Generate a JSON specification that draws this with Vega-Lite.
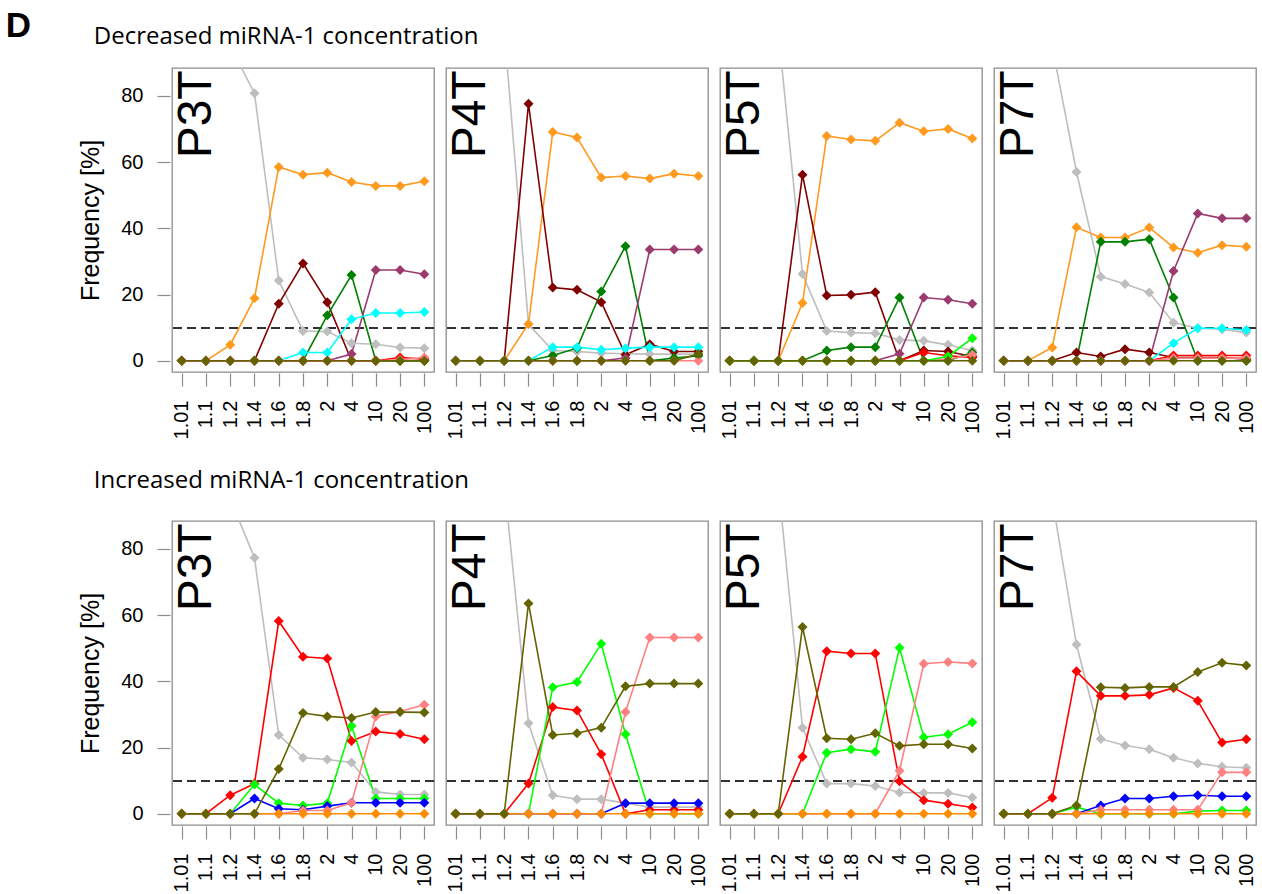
{
"$schema": "https://vega.github.io/schema/vega-lite/v6.json",
"background": "white",
"padding": {"left": 5, "top": 9, "right": 0, "bottom": 0},
"title": {"text": "D", "anchor": "start", "frame": "bounds", "dx": -73, "offset": -47, "font": "Liberation Sans", "fontSize": 35, "fontWeight": "bold", "color": "black", "baseline": "alphabetic"},
"datasets": {
"dec": [
{"panel":"P3T","series":"gray","conc":"1.01","pct":100},{"panel":"P3T","series":"gray","conc":"1.1","pct":100},{"panel":"P3T","series":"gray","conc":"1.2","pct":95},{"panel":"P3T","series":"gray","conc":"1.4","pct":80.8},{"panel":"P3T","series":"gray","conc":"1.6","pct":24.2},{"panel":"P3T","series":"gray","conc":"1.8","pct":9.0},{"panel":"P3T","series":"gray","conc":"2","pct":8.8},{"panel":"P3T","series":"gray","conc":"4","pct":5.3},{"panel":"P3T","series":"gray","conc":"10","pct":5.0},{"panel":"P3T","series":"gray","conc":"20","pct":4.0},{"panel":"P3T","series":"gray","conc":"100","pct":3.8},
{"panel":"P3T","series":"orange","conc":"1.01","pct":0},{"panel":"P3T","series":"orange","conc":"1.1","pct":0},{"panel":"P3T","series":"orange","conc":"1.2","pct":4.8},{"panel":"P3T","series":"orange","conc":"1.4","pct":18.9},{"panel":"P3T","series":"orange","conc":"1.6","pct":58.5},{"panel":"P3T","series":"orange","conc":"1.8","pct":56.2},{"panel":"P3T","series":"orange","conc":"2","pct":56.8},{"panel":"P3T","series":"orange","conc":"4","pct":54.0},{"panel":"P3T","series":"orange","conc":"10","pct":52.8},{"panel":"P3T","series":"orange","conc":"20","pct":52.8},{"panel":"P3T","series":"orange","conc":"100","pct":54.2},
{"panel":"P3T","series":"darkred","conc":"1.01","pct":0},{"panel":"P3T","series":"darkred","conc":"1.1","pct":0},{"panel":"P3T","series":"darkred","conc":"1.2","pct":0},{"panel":"P3T","series":"darkred","conc":"1.4","pct":0},{"panel":"P3T","series":"darkred","conc":"1.6","pct":17.2},{"panel":"P3T","series":"darkred","conc":"1.8","pct":29.4},{"panel":"P3T","series":"darkred","conc":"2","pct":17.7},{"panel":"P3T","series":"darkred","conc":"4","pct":0},{"panel":"P3T","series":"darkred","conc":"10","pct":0},{"panel":"P3T","series":"darkred","conc":"20","pct":0},{"panel":"P3T","series":"darkred","conc":"100","pct":0},
{"panel":"P3T","series":"green","conc":"1.01","pct":0},{"panel":"P3T","series":"green","conc":"1.1","pct":0},{"panel":"P3T","series":"green","conc":"1.2","pct":0},{"panel":"P3T","series":"green","conc":"1.4","pct":0},{"panel":"P3T","series":"green","conc":"1.6","pct":0},{"panel":"P3T","series":"green","conc":"1.8","pct":0},{"panel":"P3T","series":"green","conc":"2","pct":13.7},{"panel":"P3T","series":"green","conc":"4","pct":25.9},{"panel":"P3T","series":"green","conc":"10","pct":0},{"panel":"P3T","series":"green","conc":"20","pct":0},{"panel":"P3T","series":"green","conc":"100","pct":0},
{"panel":"P3T","series":"purple","conc":"1.01","pct":0},{"panel":"P3T","series":"purple","conc":"1.1","pct":0},{"panel":"P3T","series":"purple","conc":"1.2","pct":0},{"panel":"P3T","series":"purple","conc":"1.4","pct":0},{"panel":"P3T","series":"purple","conc":"1.6","pct":0},{"panel":"P3T","series":"purple","conc":"1.8","pct":0},{"panel":"P3T","series":"purple","conc":"2","pct":0},{"panel":"P3T","series":"purple","conc":"4","pct":2.0},{"panel":"P3T","series":"purple","conc":"10","pct":27.4},{"panel":"P3T","series":"purple","conc":"20","pct":27.4},{"panel":"P3T","series":"purple","conc":"100","pct":26.1},
{"panel":"P3T","series":"cyan","conc":"1.01","pct":0},{"panel":"P3T","series":"cyan","conc":"1.1","pct":0},{"panel":"P3T","series":"cyan","conc":"1.2","pct":0},{"panel":"P3T","series":"cyan","conc":"1.4","pct":0},{"panel":"P3T","series":"cyan","conc":"1.6","pct":0},{"panel":"P3T","series":"cyan","conc":"1.8","pct":2.5},{"panel":"P3T","series":"cyan","conc":"2","pct":2.5},{"panel":"P3T","series":"cyan","conc":"4","pct":12.5},{"panel":"P3T","series":"cyan","conc":"10","pct":14.4},{"panel":"P3T","series":"cyan","conc":"20","pct":14.4},{"panel":"P3T","series":"cyan","conc":"100","pct":14.7},
{"panel":"P3T","series":"red","conc":"1.01","pct":0},{"panel":"P3T","series":"red","conc":"1.1","pct":0},{"panel":"P3T","series":"red","conc":"1.2","pct":0},{"panel":"P3T","series":"red","conc":"1.4","pct":0},{"panel":"P3T","series":"red","conc":"1.6","pct":0},{"panel":"P3T","series":"red","conc":"1.8","pct":0},{"panel":"P3T","series":"red","conc":"2","pct":0},{"panel":"P3T","series":"red","conc":"4","pct":0},{"panel":"P3T","series":"red","conc":"10","pct":0},{"panel":"P3T","series":"red","conc":"20","pct":1.0},{"panel":"P3T","series":"red","conc":"100","pct":0.5},
{"panel":"P3T","series":"pink","conc":"1.01","pct":0},{"panel":"P3T","series":"pink","conc":"1.1","pct":0},{"panel":"P3T","series":"pink","conc":"1.2","pct":0},{"panel":"P3T","series":"pink","conc":"1.4","pct":0},{"panel":"P3T","series":"pink","conc":"1.6","pct":0},{"panel":"P3T","series":"pink","conc":"1.8","pct":0},{"panel":"P3T","series":"pink","conc":"2","pct":0},{"panel":"P3T","series":"pink","conc":"4","pct":0},{"panel":"P3T","series":"pink","conc":"10","pct":0},{"panel":"P3T","series":"pink","conc":"20","pct":0.3},{"panel":"P3T","series":"pink","conc":"100","pct":1.0},
{"panel":"P3T","series":"olive","conc":"1.01","pct":0},{"panel":"P3T","series":"olive","conc":"1.1","pct":0},{"panel":"P3T","series":"olive","conc":"1.2","pct":0},{"panel":"P3T","series":"olive","conc":"1.4","pct":0},{"panel":"P3T","series":"olive","conc":"1.6","pct":0},{"panel":"P3T","series":"olive","conc":"1.8","pct":0},{"panel":"P3T","series":"olive","conc":"2","pct":0},{"panel":"P3T","series":"olive","conc":"4","pct":0},{"panel":"P3T","series":"olive","conc":"10","pct":0},{"panel":"P3T","series":"olive","conc":"20","pct":0},{"panel":"P3T","series":"olive","conc":"100","pct":0},

{"panel":"P4T","series":"gray","conc":"1.01","pct":100},{"panel":"P4T","series":"gray","conc":"1.1","pct":100},{"panel":"P4T","series":"gray","conc":"1.2","pct":100},{"panel":"P4T","series":"gray","conc":"1.4","pct":11},{"panel":"P4T","series":"gray","conc":"1.6","pct":3.1},{"panel":"P4T","series":"gray","conc":"1.8","pct":2.8},{"panel":"P4T","series":"gray","conc":"2","pct":2.3},{"panel":"P4T","series":"gray","conc":"4","pct":2.1},{"panel":"P4T","series":"gray","conc":"10","pct":2.0},{"panel":"P4T","series":"gray","conc":"20","pct":2.0},{"panel":"P4T","series":"gray","conc":"100","pct":2.0},
{"panel":"P4T","series":"orange","conc":"1.01","pct":0},{"panel":"P4T","series":"orange","conc":"1.1","pct":0},{"panel":"P4T","series":"orange","conc":"1.2","pct":0},{"panel":"P4T","series":"orange","conc":"1.4","pct":11.1},{"panel":"P4T","series":"orange","conc":"1.6","pct":69.1},{"panel":"P4T","series":"orange","conc":"1.8","pct":67.4},{"panel":"P4T","series":"orange","conc":"2","pct":55.3},{"panel":"P4T","series":"orange","conc":"4","pct":55.8},{"panel":"P4T","series":"orange","conc":"10","pct":55.0},{"panel":"P4T","series":"orange","conc":"20","pct":56.5},{"panel":"P4T","series":"orange","conc":"100","pct":55.8},
{"panel":"P4T","series":"darkred","conc":"1.01","pct":0},{"panel":"P4T","series":"darkred","conc":"1.1","pct":0},{"panel":"P4T","series":"darkred","conc":"1.2","pct":0},{"panel":"P4T","series":"darkred","conc":"1.4","pct":77.6},{"panel":"P4T","series":"darkred","conc":"1.6","pct":22.1},{"panel":"P4T","series":"darkred","conc":"1.8","pct":21.4},{"panel":"P4T","series":"darkred","conc":"2","pct":17.7},{"panel":"P4T","series":"darkred","conc":"4","pct":1.8},{"panel":"P4T","series":"darkred","conc":"10","pct":5.0},{"panel":"P4T","series":"darkred","conc":"20","pct":2.8},{"panel":"P4T","series":"darkred","conc":"100","pct":2.8},
{"panel":"P4T","series":"green","conc":"1.01","pct":0},{"panel":"P4T","series":"green","conc":"1.1","pct":0},{"panel":"P4T","series":"green","conc":"1.2","pct":0},{"panel":"P4T","series":"green","conc":"1.4","pct":0},{"panel":"P4T","series":"green","conc":"1.6","pct":1.6},{"panel":"P4T","series":"green","conc":"1.8","pct":3.8},{"panel":"P4T","series":"green","conc":"2","pct":20.9},{"panel":"P4T","series":"green","conc":"4","pct":34.6},{"panel":"P4T","series":"green","conc":"10","pct":0},{"panel":"P4T","series":"green","conc":"20","pct":0.8},{"panel":"P4T","series":"green","conc":"100","pct":1.5},
{"panel":"P4T","series":"purple","conc":"1.01","pct":0},{"panel":"P4T","series":"purple","conc":"1.1","pct":0},{"panel":"P4T","series":"purple","conc":"1.2","pct":0},{"panel":"P4T","series":"purple","conc":"1.4","pct":0},{"panel":"P4T","series":"purple","conc":"1.6","pct":0},{"panel":"P4T","series":"purple","conc":"1.8","pct":0},{"panel":"P4T","series":"purple","conc":"2","pct":0},{"panel":"P4T","series":"purple","conc":"4","pct":0.8},{"panel":"P4T","series":"purple","conc":"10","pct":33.6},{"panel":"P4T","series":"purple","conc":"20","pct":33.6},{"panel":"P4T","series":"purple","conc":"100","pct":33.6},
{"panel":"P4T","series":"cyan","conc":"1.01","pct":0},{"panel":"P4T","series":"cyan","conc":"1.1","pct":0},{"panel":"P4T","series":"cyan","conc":"1.2","pct":0},{"panel":"P4T","series":"cyan","conc":"1.4","pct":0},{"panel":"P4T","series":"cyan","conc":"1.6","pct":4.1},{"panel":"P4T","series":"cyan","conc":"1.8","pct":4.1},{"panel":"P4T","series":"cyan","conc":"2","pct":3.3},{"panel":"P4T","series":"cyan","conc":"4","pct":3.8},{"panel":"P4T","series":"cyan","conc":"10","pct":4.1},{"panel":"P4T","series":"cyan","conc":"20","pct":4.1},{"panel":"P4T","series":"cyan","conc":"100","pct":4.1},
{"panel":"P4T","series":"pink","conc":"1.01","pct":0},{"panel":"P4T","series":"pink","conc":"1.1","pct":0},{"panel":"P4T","series":"pink","conc":"1.2","pct":0},{"panel":"P4T","series":"pink","conc":"1.4","pct":0},{"panel":"P4T","series":"pink","conc":"1.6","pct":0},{"panel":"P4T","series":"pink","conc":"1.8","pct":0},{"panel":"P4T","series":"pink","conc":"2","pct":0},{"panel":"P4T","series":"pink","conc":"4","pct":0},{"panel":"P4T","series":"pink","conc":"10","pct":0},{"panel":"P4T","series":"pink","conc":"20","pct":0},{"panel":"P4T","series":"pink","conc":"100","pct":0},
{"panel":"P4T","series":"olive","conc":"1.01","pct":0},{"panel":"P4T","series":"olive","conc":"1.1","pct":0},{"panel":"P4T","series":"olive","conc":"1.2","pct":0},{"panel":"P4T","series":"olive","conc":"1.4","pct":0},{"panel":"P4T","series":"olive","conc":"1.6","pct":0},{"panel":"P4T","series":"olive","conc":"1.8","pct":0},{"panel":"P4T","series":"olive","conc":"2","pct":0},{"panel":"P4T","series":"olive","conc":"4","pct":0},{"panel":"P4T","series":"olive","conc":"10","pct":0},{"panel":"P4T","series":"olive","conc":"20","pct":0},{"panel":"P4T","series":"olive","conc":"100","pct":2.0},

{"panel":"P5T","series":"gray","conc":"1.01","pct":100},{"panel":"P5T","series":"gray","conc":"1.1","pct":100},{"panel":"P5T","series":"gray","conc":"1.2","pct":100},{"panel":"P5T","series":"gray","conc":"1.4","pct":26.2},{"panel":"P5T","series":"gray","conc":"1.6","pct":9.0},{"panel":"P5T","series":"gray","conc":"1.8","pct":8.5},{"panel":"P5T","series":"gray","conc":"2","pct":8.3},{"panel":"P5T","series":"gray","conc":"4","pct":6.3},{"panel":"P5T","series":"gray","conc":"10","pct":6.0},{"panel":"P5T","series":"gray","conc":"20","pct":4.8},{"panel":"P5T","series":"gray","conc":"100","pct":3.1},
{"panel":"P5T","series":"orange","conc":"1.01","pct":0},{"panel":"P5T","series":"orange","conc":"1.1","pct":0},{"panel":"P5T","series":"orange","conc":"1.2","pct":0},{"panel":"P5T","series":"orange","conc":"1.4","pct":17.4},{"panel":"P5T","series":"orange","conc":"1.6","pct":67.9},{"panel":"P5T","series":"orange","conc":"1.8","pct":66.8},{"panel":"P5T","series":"orange","conc":"2","pct":66.4},{"panel":"P5T","series":"orange","conc":"4","pct":71.9},{"panel":"P5T","series":"orange","conc":"10","pct":69.3},{"panel":"P5T","series":"orange","conc":"20","pct":70.0},{"panel":"P5T","series":"orange","conc":"100","pct":67.1},
{"panel":"P5T","series":"darkred","conc":"1.01","pct":0},{"panel":"P5T","series":"darkred","conc":"1.1","pct":0},{"panel":"P5T","series":"darkred","conc":"1.2","pct":0},{"panel":"P5T","series":"darkred","conc":"1.4","pct":56.2},{"panel":"P5T","series":"darkred","conc":"1.6","pct":19.7},{"panel":"P5T","series":"darkred","conc":"1.8","pct":19.9},{"panel":"P5T","series":"darkred","conc":"2","pct":20.7},{"panel":"P5T","series":"darkred","conc":"4","pct":0},{"panel":"P5T","series":"darkred","conc":"10","pct":3.1},{"panel":"P5T","series":"darkred","conc":"20","pct":2.8},{"panel":"P5T","series":"darkred","conc":"100","pct":1.3},
{"panel":"P5T","series":"green","conc":"1.01","pct":0},{"panel":"P5T","series":"green","conc":"1.1","pct":0},{"panel":"P5T","series":"green","conc":"1.2","pct":0},{"panel":"P5T","series":"green","conc":"1.4","pct":0},{"panel":"P5T","series":"green","conc":"1.6","pct":3.1},{"panel":"P5T","series":"green","conc":"1.8","pct":4.1},{"panel":"P5T","series":"green","conc":"2","pct":4.1},{"panel":"P5T","series":"green","conc":"4","pct":19.1},{"panel":"P5T","series":"green","conc":"10","pct":0},{"panel":"P5T","series":"green","conc":"20","pct":0},{"panel":"P5T","series":"green","conc":"100","pct":2.5},
{"panel":"P5T","series":"purple","conc":"1.01","pct":0},{"panel":"P5T","series":"purple","conc":"1.1","pct":0},{"panel":"P5T","series":"purple","conc":"1.2","pct":0},{"panel":"P5T","series":"purple","conc":"1.4","pct":0},{"panel":"P5T","series":"purple","conc":"1.6","pct":0},{"panel":"P5T","series":"purple","conc":"1.8","pct":0},{"panel":"P5T","series":"purple","conc":"2","pct":0},{"panel":"P5T","series":"purple","conc":"4","pct":2.1},{"panel":"P5T","series":"purple","conc":"10","pct":19.1},{"panel":"P5T","series":"purple","conc":"20","pct":18.4},{"panel":"P5T","series":"purple","conc":"100","pct":17.2},
{"panel":"P5T","series":"red","conc":"1.01","pct":0},{"panel":"P5T","series":"red","conc":"1.1","pct":0},{"panel":"P5T","series":"red","conc":"1.2","pct":0},{"panel":"P5T","series":"red","conc":"1.4","pct":0},{"panel":"P5T","series":"red","conc":"1.6","pct":0},{"panel":"P5T","series":"red","conc":"1.8","pct":0},{"panel":"P5T","series":"red","conc":"2","pct":0},{"panel":"P5T","series":"red","conc":"4","pct":0},{"panel":"P5T","series":"red","conc":"10","pct":2.5},{"panel":"P5T","series":"red","conc":"20","pct":1.5},{"panel":"P5T","series":"red","conc":"100","pct":1.0},
{"panel":"P5T","series":"pink","conc":"1.01","pct":0},{"panel":"P5T","series":"pink","conc":"1.1","pct":0},{"panel":"P5T","series":"pink","conc":"1.2","pct":0},{"panel":"P5T","series":"pink","conc":"1.4","pct":0},{"panel":"P5T","series":"pink","conc":"1.6","pct":0},{"panel":"P5T","series":"pink","conc":"1.8","pct":0},{"panel":"P5T","series":"pink","conc":"2","pct":0},{"panel":"P5T","series":"pink","conc":"4","pct":0},{"panel":"P5T","series":"pink","conc":"10","pct":0},{"panel":"P5T","series":"pink","conc":"20","pct":0.5},{"panel":"P5T","series":"pink","conc":"100","pct":1.8},
{"panel":"P5T","series":"lime","conc":"1.01","pct":0},{"panel":"P5T","series":"lime","conc":"1.1","pct":0},{"panel":"P5T","series":"lime","conc":"1.2","pct":0},{"panel":"P5T","series":"lime","conc":"1.4","pct":0},{"panel":"P5T","series":"lime","conc":"1.6","pct":0},{"panel":"P5T","series":"lime","conc":"1.8","pct":0},{"panel":"P5T","series":"lime","conc":"2","pct":0},{"panel":"P5T","series":"lime","conc":"4","pct":0},{"panel":"P5T","series":"lime","conc":"10","pct":0},{"panel":"P5T","series":"lime","conc":"20","pct":1.3},{"panel":"P5T","series":"lime","conc":"100","pct":6.8},
{"panel":"P5T","series":"olive","conc":"1.01","pct":0},{"panel":"P5T","series":"olive","conc":"1.1","pct":0},{"panel":"P5T","series":"olive","conc":"1.2","pct":0},{"panel":"P5T","series":"olive","conc":"1.4","pct":0},{"panel":"P5T","series":"olive","conc":"1.6","pct":0},{"panel":"P5T","series":"olive","conc":"1.8","pct":0},{"panel":"P5T","series":"olive","conc":"2","pct":0},{"panel":"P5T","series":"olive","conc":"4","pct":0},{"panel":"P5T","series":"olive","conc":"10","pct":0},{"panel":"P5T","series":"olive","conc":"20","pct":0},{"panel":"P5T","series":"olive","conc":"100","pct":0},

{"panel":"P7T","series":"gray","conc":"1.01","pct":100},{"panel":"P7T","series":"gray","conc":"1.1","pct":100},{"panel":"P7T","series":"gray","conc":"1.2","pct":95},{"panel":"P7T","series":"gray","conc":"1.4","pct":57.0},{"panel":"P7T","series":"gray","conc":"1.6","pct":25.4},{"panel":"P7T","series":"gray","conc":"1.8","pct":23.2},{"panel":"P7T","series":"gray","conc":"2","pct":20.6},{"panel":"P7T","series":"gray","conc":"4","pct":11.5},{"panel":"P7T","series":"gray","conc":"10","pct":9.8},{"panel":"P7T","series":"gray","conc":"20","pct":9.5},{"panel":"P7T","series":"gray","conc":"100","pct":8.5},
{"panel":"P7T","series":"orange","conc":"1.01","pct":0},{"panel":"P7T","series":"orange","conc":"1.1","pct":0},{"panel":"P7T","series":"orange","conc":"1.2","pct":4.0},{"panel":"P7T","series":"orange","conc":"1.4","pct":40.3},{"panel":"P7T","series":"orange","conc":"1.6","pct":37.2},{"panel":"P7T","series":"orange","conc":"1.8","pct":37.2},{"panel":"P7T","series":"orange","conc":"2","pct":40.2},{"panel":"P7T","series":"orange","conc":"4","pct":34.2},{"panel":"P7T","series":"orange","conc":"10","pct":32.6},{"panel":"P7T","series":"orange","conc":"20","pct":34.9},{"panel":"P7T","series":"orange","conc":"100","pct":34.4},
{"panel":"P7T","series":"darkred","conc":"1.01","pct":0},{"panel":"P7T","series":"darkred","conc":"1.1","pct":0},{"panel":"P7T","series":"darkred","conc":"1.2","pct":0},{"panel":"P7T","series":"darkred","conc":"1.4","pct":2.5},{"panel":"P7T","series":"darkred","conc":"1.6","pct":1.3},{"panel":"P7T","series":"darkred","conc":"1.8","pct":3.5},{"panel":"P7T","series":"darkred","conc":"2","pct":2.5},{"panel":"P7T","series":"darkred","conc":"4","pct":1.0},{"panel":"P7T","series":"darkred","conc":"10","pct":1.0},{"panel":"P7T","series":"darkred","conc":"20","pct":1.0},{"panel":"P7T","series":"darkred","conc":"100","pct":0.5},
{"panel":"P7T","series":"green","conc":"1.01","pct":0},{"panel":"P7T","series":"green","conc":"1.1","pct":0},{"panel":"P7T","series":"green","conc":"1.2","pct":0},{"panel":"P7T","series":"green","conc":"1.4","pct":0},{"panel":"P7T","series":"green","conc":"1.6","pct":35.9},{"panel":"P7T","series":"green","conc":"1.8","pct":35.9},{"panel":"P7T","series":"green","conc":"2","pct":36.7},{"panel":"P7T","series":"green","conc":"4","pct":19.1},{"panel":"P7T","series":"green","conc":"10","pct":0},{"panel":"P7T","series":"green","conc":"20","pct":0},{"panel":"P7T","series":"green","conc":"100","pct":0},
{"panel":"P7T","series":"purple","conc":"1.01","pct":0},{"panel":"P7T","series":"purple","conc":"1.1","pct":0},{"panel":"P7T","series":"purple","conc":"1.2","pct":0},{"panel":"P7T","series":"purple","conc":"1.4","pct":0},{"panel":"P7T","series":"purple","conc":"1.6","pct":0},{"panel":"P7T","series":"purple","conc":"1.8","pct":0},{"panel":"P7T","series":"purple","conc":"2","pct":0},{"panel":"P7T","series":"purple","conc":"4","pct":27.1},{"panel":"P7T","series":"purple","conc":"10","pct":44.5},{"panel":"P7T","series":"purple","conc":"20","pct":43.0},{"panel":"P7T","series":"purple","conc":"100","pct":43.0},
{"panel":"P7T","series":"cyan","conc":"1.01","pct":0},{"panel":"P7T","series":"cyan","conc":"1.1","pct":0},{"panel":"P7T","series":"cyan","conc":"1.2","pct":0},{"panel":"P7T","series":"cyan","conc":"1.4","pct":0},{"panel":"P7T","series":"cyan","conc":"1.6","pct":0},{"panel":"P7T","series":"cyan","conc":"1.8","pct":0},{"panel":"P7T","series":"cyan","conc":"2","pct":0},{"panel":"P7T","series":"cyan","conc":"4","pct":5.3},{"panel":"P7T","series":"cyan","conc":"10","pct":9.8},{"panel":"P7T","series":"cyan","conc":"20","pct":9.8},{"panel":"P7T","series":"cyan","conc":"100","pct":9.3},
{"panel":"P7T","series":"red","conc":"1.01","pct":0},{"panel":"P7T","series":"red","conc":"1.1","pct":0},{"panel":"P7T","series":"red","conc":"1.2","pct":0},{"panel":"P7T","series":"red","conc":"1.4","pct":0},{"panel":"P7T","series":"red","conc":"1.6","pct":0},{"panel":"P7T","series":"red","conc":"1.8","pct":0},{"panel":"P7T","series":"red","conc":"2","pct":0},{"panel":"P7T","series":"red","conc":"4","pct":1.6},{"panel":"P7T","series":"red","conc":"10","pct":1.6},{"panel":"P7T","series":"red","conc":"20","pct":1.6},{"panel":"P7T","series":"red","conc":"100","pct":1.6},
{"panel":"P7T","series":"pink","conc":"1.01","pct":0},{"panel":"P7T","series":"pink","conc":"1.1","pct":0},{"panel":"P7T","series":"pink","conc":"1.2","pct":0},{"panel":"P7T","series":"pink","conc":"1.4","pct":0},{"panel":"P7T","series":"pink","conc":"1.6","pct":0},{"panel":"P7T","series":"pink","conc":"1.8","pct":0},{"panel":"P7T","series":"pink","conc":"2","pct":0},{"panel":"P7T","series":"pink","conc":"4","pct":0.8},{"panel":"P7T","series":"pink","conc":"10","pct":0.8},{"panel":"P7T","series":"pink","conc":"20","pct":0.8},{"panel":"P7T","series":"pink","conc":"100","pct":0.8},
{"panel":"P7T","series":"olive","conc":"1.01","pct":0},{"panel":"P7T","series":"olive","conc":"1.1","pct":0},{"panel":"P7T","series":"olive","conc":"1.2","pct":0},{"panel":"P7T","series":"olive","conc":"1.4","pct":0},{"panel":"P7T","series":"olive","conc":"1.6","pct":0},{"panel":"P7T","series":"olive","conc":"1.8","pct":0},{"panel":"P7T","series":"olive","conc":"2","pct":0},{"panel":"P7T","series":"olive","conc":"4","pct":0},{"panel":"P7T","series":"olive","conc":"10","pct":0},{"panel":"P7T","series":"olive","conc":"20","pct":0},{"panel":"P7T","series":"olive","conc":"100","pct":0}
],
"inc": [
{"panel":"P3T","series":"gray","conc":"1.01","pct":100},{"panel":"P3T","series":"gray","conc":"1.1","pct":100},{"panel":"P3T","series":"gray","conc":"1.2","pct":95},{"panel":"P3T","series":"gray","conc":"1.4","pct":77.3},{"panel":"P3T","series":"gray","conc":"1.6","pct":23.8},{"panel":"P3T","series":"gray","conc":"1.8","pct":16.9},{"panel":"P3T","series":"gray","conc":"2","pct":16.4},{"panel":"P3T","series":"gray","conc":"4","pct":15.5},{"panel":"P3T","series":"gray","conc":"10","pct":6.6},{"panel":"P3T","series":"gray","conc":"20","pct":5.8},{"panel":"P3T","series":"gray","conc":"100","pct":5.8},
{"panel":"P3T","series":"red","conc":"1.01","pct":0},{"panel":"P3T","series":"red","conc":"1.1","pct":0},{"panel":"P3T","series":"red","conc":"1.2","pct":5.6},{"panel":"P3T","series":"red","conc":"1.4","pct":9.1},{"panel":"P3T","series":"red","conc":"1.6","pct":58.2},{"panel":"P3T","series":"red","conc":"1.8","pct":47.4},{"panel":"P3T","series":"red","conc":"2","pct":46.9},{"panel":"P3T","series":"red","conc":"4","pct":22.0},{"panel":"P3T","series":"red","conc":"10","pct":24.8},{"panel":"P3T","series":"red","conc":"20","pct":24.1},{"panel":"P3T","series":"red","conc":"100","pct":22.5},
{"panel":"P3T","series":"lime","conc":"1.01","pct":0},{"panel":"P3T","series":"lime","conc":"1.1","pct":0},{"panel":"P3T","series":"lime","conc":"1.2","pct":0},{"panel":"P3T","series":"lime","conc":"1.4","pct":8.8},{"panel":"P3T","series":"lime","conc":"1.6","pct":3.2},{"panel":"P3T","series":"lime","conc":"1.8","pct":2.5},{"panel":"P3T","series":"lime","conc":"2","pct":3.2},{"panel":"P3T","series":"lime","conc":"4","pct":26.5},{"panel":"P3T","series":"lime","conc":"10","pct":4.6},{"panel":"P3T","series":"lime","conc":"20","pct":4.6},{"panel":"P3T","series":"lime","conc":"100","pct":4.6},
{"panel":"P3T","series":"blue","conc":"1.01","pct":0},{"panel":"P3T","series":"blue","conc":"1.1","pct":0},{"panel":"P3T","series":"blue","conc":"1.2","pct":0},{"panel":"P3T","series":"blue","conc":"1.4","pct":4.6},{"panel":"P3T","series":"blue","conc":"1.6","pct":1.5},{"panel":"P3T","series":"blue","conc":"1.8","pct":1.2},{"panel":"P3T","series":"blue","conc":"2","pct":2.3},{"panel":"P3T","series":"blue","conc":"4","pct":3.3},{"panel":"P3T","series":"blue","conc":"10","pct":3.3},{"panel":"P3T","series":"blue","conc":"20","pct":3.3},{"panel":"P3T","series":"blue","conc":"100","pct":3.3},
{"panel":"P3T","series":"pink","conc":"1.01","pct":0},{"panel":"P3T","series":"pink","conc":"1.1","pct":0},{"panel":"P3T","series":"pink","conc":"1.2","pct":0},{"panel":"P3T","series":"pink","conc":"1.4","pct":0},{"panel":"P3T","series":"pink","conc":"1.6","pct":0},{"panel":"P3T","series":"pink","conc":"1.8","pct":1.0},{"panel":"P3T","series":"pink","conc":"2","pct":1.0},{"panel":"P3T","series":"pink","conc":"4","pct":3.3},{"panel":"P3T","series":"pink","conc":"10","pct":29.4},{"panel":"P3T","series":"pink","conc":"20","pct":30.9},{"panel":"P3T","series":"pink","conc":"100","pct":32.9},
{"panel":"P3T","series":"orange2","conc":"1.01","pct":0},{"panel":"P3T","series":"orange2","conc":"1.1","pct":0},{"panel":"P3T","series":"orange2","conc":"1.2","pct":0},{"panel":"P3T","series":"orange2","conc":"1.4","pct":0},{"panel":"P3T","series":"orange2","conc":"1.6","pct":0},{"panel":"P3T","series":"orange2","conc":"1.8","pct":0},{"panel":"P3T","series":"orange2","conc":"2","pct":0},{"panel":"P3T","series":"orange2","conc":"4","pct":0},{"panel":"P3T","series":"orange2","conc":"10","pct":0},{"panel":"P3T","series":"orange2","conc":"20","pct":0},{"panel":"P3T","series":"orange2","conc":"100","pct":0},
{"panel":"P3T","series":"olive","conc":"1.01","pct":0},{"panel":"P3T","series":"olive","conc":"1.1","pct":0},{"panel":"P3T","series":"olive","conc":"1.2","pct":0},{"panel":"P3T","series":"olive","conc":"1.4","pct":0},{"panel":"P3T","series":"olive","conc":"1.6","pct":13.5},{"panel":"P3T","series":"olive","conc":"1.8","pct":30.4},{"panel":"P3T","series":"olive","conc":"2","pct":29.4},{"panel":"P3T","series":"olive","conc":"4","pct":28.9},{"panel":"P3T","series":"olive","conc":"10","pct":30.7},{"panel":"P3T","series":"olive","conc":"20","pct":30.7},{"panel":"P3T","series":"olive","conc":"100","pct":30.6},

{"panel":"P4T","series":"gray","conc":"1.01","pct":100},{"panel":"P4T","series":"gray","conc":"1.1","pct":100},{"panel":"P4T","series":"gray","conc":"1.2","pct":100},{"panel":"P4T","series":"gray","conc":"1.4","pct":27.3},{"panel":"P4T","series":"gray","conc":"1.6","pct":5.6},{"panel":"P4T","series":"gray","conc":"1.8","pct":4.4},{"panel":"P4T","series":"gray","conc":"2","pct":4.4},{"panel":"P4T","series":"gray","conc":"4","pct":3.2},{"panel":"P4T","series":"gray","conc":"10","pct":2.0},{"panel":"P4T","series":"gray","conc":"20","pct":2.0},{"panel":"P4T","series":"gray","conc":"100","pct":2.0},
{"panel":"P4T","series":"red","conc":"1.01","pct":0},{"panel":"P4T","series":"red","conc":"1.1","pct":0},{"panel":"P4T","series":"red","conc":"1.2","pct":0},{"panel":"P4T","series":"red","conc":"1.4","pct":9.1},{"panel":"P4T","series":"red","conc":"1.6","pct":32.2},{"panel":"P4T","series":"red","conc":"1.8","pct":31.2},{"panel":"P4T","series":"red","conc":"2","pct":18.0},{"panel":"P4T","series":"red","conc":"4","pct":0},{"panel":"P4T","series":"red","conc":"10","pct":1.2},{"panel":"P4T","series":"red","conc":"20","pct":1.2},{"panel":"P4T","series":"red","conc":"100","pct":1.2},
{"panel":"P4T","series":"lime","conc":"1.01","pct":0},{"panel":"P4T","series":"lime","conc":"1.1","pct":0},{"panel":"P4T","series":"lime","conc":"1.2","pct":0},{"panel":"P4T","series":"lime","conc":"1.4","pct":0},{"panel":"P4T","series":"lime","conc":"1.6","pct":38.2},{"panel":"P4T","series":"lime","conc":"1.8","pct":39.8},{"panel":"P4T","series":"lime","conc":"2","pct":51.3},{"panel":"P4T","series":"lime","conc":"4","pct":24.0},{"panel":"P4T","series":"lime","conc":"10","pct":0},{"panel":"P4T","series":"lime","conc":"20","pct":0},{"panel":"P4T","series":"lime","conc":"100","pct":0},
{"panel":"P4T","series":"blue","conc":"1.01","pct":0},{"panel":"P4T","series":"blue","conc":"1.1","pct":0},{"panel":"P4T","series":"blue","conc":"1.2","pct":0},{"panel":"P4T","series":"blue","conc":"1.4","pct":0},{"panel":"P4T","series":"blue","conc":"1.6","pct":0},{"panel":"P4T","series":"blue","conc":"1.8","pct":0},{"panel":"P4T","series":"blue","conc":"2","pct":0},{"panel":"P4T","series":"blue","conc":"4","pct":3.2},{"panel":"P4T","series":"blue","conc":"10","pct":3.2},{"panel":"P4T","series":"blue","conc":"20","pct":3.2},{"panel":"P4T","series":"blue","conc":"100","pct":3.2},
{"panel":"P4T","series":"pink","conc":"1.01","pct":0},{"panel":"P4T","series":"pink","conc":"1.1","pct":0},{"panel":"P4T","series":"pink","conc":"1.2","pct":0},{"panel":"P4T","series":"pink","conc":"1.4","pct":0},{"panel":"P4T","series":"pink","conc":"1.6","pct":0},{"panel":"P4T","series":"pink","conc":"1.8","pct":0},{"panel":"P4T","series":"pink","conc":"2","pct":0},{"panel":"P4T","series":"pink","conc":"4","pct":30.7},{"panel":"P4T","series":"pink","conc":"10","pct":53.2},{"panel":"P4T","series":"pink","conc":"20","pct":53.2},{"panel":"P4T","series":"pink","conc":"100","pct":53.2},
{"panel":"P4T","series":"orange2","conc":"1.01","pct":0},{"panel":"P4T","series":"orange2","conc":"1.1","pct":0},{"panel":"P4T","series":"orange2","conc":"1.2","pct":0},{"panel":"P4T","series":"orange2","conc":"1.4","pct":0},{"panel":"P4T","series":"orange2","conc":"1.6","pct":0},{"panel":"P4T","series":"orange2","conc":"1.8","pct":0},{"panel":"P4T","series":"orange2","conc":"2","pct":0},{"panel":"P4T","series":"orange2","conc":"4","pct":0},{"panel":"P4T","series":"orange2","conc":"10","pct":0},{"panel":"P4T","series":"orange2","conc":"20","pct":0},{"panel":"P4T","series":"orange2","conc":"100","pct":0},
{"panel":"P4T","series":"olive","conc":"1.01","pct":0},{"panel":"P4T","series":"olive","conc":"1.1","pct":0},{"panel":"P4T","series":"olive","conc":"1.2","pct":0},{"panel":"P4T","series":"olive","conc":"1.4","pct":63.5},{"panel":"P4T","series":"olive","conc":"1.6","pct":23.8},{"panel":"P4T","series":"olive","conc":"1.8","pct":24.3},{"panel":"P4T","series":"olive","conc":"2","pct":26.0},{"panel":"P4T","series":"olive","conc":"4","pct":38.5},{"panel":"P4T","series":"olive","conc":"10","pct":39.3},{"panel":"P4T","series":"olive","conc":"20","pct":39.3},{"panel":"P4T","series":"olive","conc":"100","pct":39.3},

{"panel":"P5T","series":"gray","conc":"1.01","pct":100},{"panel":"P5T","series":"gray","conc":"1.1","pct":100},{"panel":"P5T","series":"gray","conc":"1.2","pct":100},{"panel":"P5T","series":"gray","conc":"1.4","pct":26.0},{"panel":"P5T","series":"gray","conc":"1.6","pct":9.1},{"panel":"P5T","series":"gray","conc":"1.8","pct":9.1},{"panel":"P5T","series":"gray","conc":"2","pct":8.4},{"panel":"P5T","series":"gray","conc":"4","pct":6.4},{"panel":"P5T","series":"gray","conc":"10","pct":6.3},{"panel":"P5T","series":"gray","conc":"20","pct":6.3},{"panel":"P5T","series":"gray","conc":"100","pct":4.9},
{"panel":"P5T","series":"red","conc":"1.01","pct":0},{"panel":"P5T","series":"red","conc":"1.1","pct":0},{"panel":"P5T","series":"red","conc":"1.2","pct":0},{"panel":"P5T","series":"red","conc":"1.4","pct":17.2},{"panel":"P5T","series":"red","conc":"1.6","pct":49.1},{"panel":"P5T","series":"red","conc":"1.8","pct":48.4},{"panel":"P5T","series":"red","conc":"2","pct":48.4},{"panel":"P5T","series":"red","conc":"4","pct":9.8},{"panel":"P5T","series":"red","conc":"10","pct":4.1},{"panel":"P5T","series":"red","conc":"20","pct":3.0},{"panel":"P5T","series":"red","conc":"100","pct":1.9},
{"panel":"P5T","series":"lime","conc":"1.01","pct":0},{"panel":"P5T","series":"lime","conc":"1.1","pct":0},{"panel":"P5T","series":"lime","conc":"1.2","pct":0},{"panel":"P5T","series":"lime","conc":"1.4","pct":0},{"panel":"P5T","series":"lime","conc":"1.6","pct":18.4},{"panel":"P5T","series":"lime","conc":"1.8","pct":19.5},{"panel":"P5T","series":"lime","conc":"2","pct":18.7},{"panel":"P5T","series":"lime","conc":"4","pct":50.1},{"panel":"P5T","series":"lime","conc":"10","pct":23.1},{"panel":"P5T","series":"lime","conc":"20","pct":24.0},{"panel":"P5T","series":"lime","conc":"100","pct":27.6},
{"panel":"P5T","series":"pink","conc":"1.01","pct":0},{"panel":"P5T","series":"pink","conc":"1.1","pct":0},{"panel":"P5T","series":"pink","conc":"1.2","pct":0},{"panel":"P5T","series":"pink","conc":"1.4","pct":0},{"panel":"P5T","series":"pink","conc":"1.6","pct":0},{"panel":"P5T","series":"pink","conc":"1.8","pct":0},{"panel":"P5T","series":"pink","conc":"2","pct":0},{"panel":"P5T","series":"pink","conc":"4","pct":13.0},{"panel":"P5T","series":"pink","conc":"10","pct":45.3},{"panel":"P5T","series":"pink","conc":"20","pct":45.8},{"panel":"P5T","series":"pink","conc":"100","pct":45.4},
{"panel":"P5T","series":"orange2","conc":"1.01","pct":0},{"panel":"P5T","series":"orange2","conc":"1.1","pct":0},{"panel":"P5T","series":"orange2","conc":"1.2","pct":0},{"panel":"P5T","series":"orange2","conc":"1.4","pct":0},{"panel":"P5T","series":"orange2","conc":"1.6","pct":0},{"panel":"P5T","series":"orange2","conc":"1.8","pct":0},{"panel":"P5T","series":"orange2","conc":"2","pct":0},{"panel":"P5T","series":"orange2","conc":"4","pct":0},{"panel":"P5T","series":"orange2","conc":"10","pct":0},{"panel":"P5T","series":"orange2","conc":"20","pct":0},{"panel":"P5T","series":"orange2","conc":"100","pct":0},
{"panel":"P5T","series":"olive","conc":"1.01","pct":0},{"panel":"P5T","series":"olive","conc":"1.1","pct":0},{"panel":"P5T","series":"olive","conc":"1.2","pct":0},{"panel":"P5T","series":"olive","conc":"1.4","pct":56.4},{"panel":"P5T","series":"olive","conc":"1.6","pct":22.8},{"panel":"P5T","series":"olive","conc":"1.8","pct":22.5},{"panel":"P5T","series":"olive","conc":"2","pct":24.3},{"panel":"P5T","series":"olive","conc":"4","pct":20.5},{"panel":"P5T","series":"olive","conc":"10","pct":21.0},{"panel":"P5T","series":"olive","conc":"20","pct":21.0},{"panel":"P5T","series":"olive","conc":"100","pct":19.7},

{"panel":"P7T","series":"gray","conc":"1.01","pct":100},{"panel":"P7T","series":"gray","conc":"1.1","pct":100},{"panel":"P7T","series":"gray","conc":"1.2","pct":95},{"panel":"P7T","series":"gray","conc":"1.4","pct":51.1},{"panel":"P7T","series":"gray","conc":"1.6","pct":22.6},{"panel":"P7T","series":"gray","conc":"1.8","pct":20.6},{"panel":"P7T","series":"gray","conc":"2","pct":19.5},{"panel":"P7T","series":"gray","conc":"4","pct":16.9},{"panel":"P7T","series":"gray","conc":"10","pct":15.2},{"panel":"P7T","series":"gray","conc":"20","pct":14.2},{"panel":"P7T","series":"gray","conc":"100","pct":13.9},
{"panel":"P7T","series":"red","conc":"1.01","pct":0},{"panel":"P7T","series":"red","conc":"1.1","pct":0},{"panel":"P7T","series":"red","conc":"1.2","pct":4.8},{"panel":"P7T","series":"red","conc":"1.4","pct":43.0},{"panel":"P7T","series":"red","conc":"1.6","pct":35.6},{"panel":"P7T","series":"red","conc":"1.8","pct":35.6},{"panel":"P7T","series":"red","conc":"2","pct":35.9},{"panel":"P7T","series":"red","conc":"4","pct":38.0},{"panel":"P7T","series":"red","conc":"10","pct":34.1},{"panel":"P7T","series":"red","conc":"20","pct":21.5},{"panel":"P7T","series":"red","conc":"100","pct":22.5},
{"panel":"P7T","series":"lime","conc":"1.01","pct":0},{"panel":"P7T","series":"lime","conc":"1.1","pct":0},{"panel":"P7T","series":"lime","conc":"1.2","pct":0},{"panel":"P7T","series":"lime","conc":"1.4","pct":2.0},{"panel":"P7T","series":"lime","conc":"1.6","pct":0},{"panel":"P7T","series":"lime","conc":"1.8","pct":0},{"panel":"P7T","series":"lime","conc":"2","pct":0},{"panel":"P7T","series":"lime","conc":"4","pct":0},{"panel":"P7T","series":"lime","conc":"10","pct":0.8},{"panel":"P7T","series":"lime","conc":"20","pct":1.0},{"panel":"P7T","series":"lime","conc":"100","pct":1.0},
{"panel":"P7T","series":"blue","conc":"1.01","pct":0},{"panel":"P7T","series":"blue","conc":"1.1","pct":0},{"panel":"P7T","series":"blue","conc":"1.2","pct":0},{"panel":"P7T","series":"blue","conc":"1.4","pct":0},{"panel":"P7T","series":"blue","conc":"1.6","pct":2.5},{"panel":"P7T","series":"blue","conc":"1.8","pct":4.6},{"panel":"P7T","series":"blue","conc":"2","pct":4.6},{"panel":"P7T","series":"blue","conc":"4","pct":5.3},{"panel":"P7T","series":"blue","conc":"10","pct":5.6},{"panel":"P7T","series":"blue","conc":"20","pct":5.3},{"panel":"P7T","series":"blue","conc":"100","pct":5.3},
{"panel":"P7T","series":"pink","conc":"1.01","pct":0},{"panel":"P7T","series":"pink","conc":"1.1","pct":0},{"panel":"P7T","series":"pink","conc":"1.2","pct":0},{"panel":"P7T","series":"pink","conc":"1.4","pct":0},{"panel":"P7T","series":"pink","conc":"1.6","pct":1.2},{"panel":"P7T","series":"pink","conc":"1.8","pct":1.2},{"panel":"P7T","series":"pink","conc":"2","pct":1.2},{"panel":"P7T","series":"pink","conc":"4","pct":1.2},{"panel":"P7T","series":"pink","conc":"10","pct":1.2},{"panel":"P7T","series":"pink","conc":"20","pct":12.5},{"panel":"P7T","series":"pink","conc":"100","pct":12.5},
{"panel":"P7T","series":"orange2","conc":"1.01","pct":0},{"panel":"P7T","series":"orange2","conc":"1.1","pct":0},{"panel":"P7T","series":"orange2","conc":"1.2","pct":0},{"panel":"P7T","series":"orange2","conc":"1.4","pct":0},{"panel":"P7T","series":"orange2","conc":"1.6","pct":0},{"panel":"P7T","series":"orange2","conc":"1.8","pct":0},{"panel":"P7T","series":"orange2","conc":"2","pct":0},{"panel":"P7T","series":"orange2","conc":"4","pct":0},{"panel":"P7T","series":"orange2","conc":"10","pct":0},{"panel":"P7T","series":"orange2","conc":"20","pct":0},{"panel":"P7T","series":"orange2","conc":"100","pct":0},
{"panel":"P7T","series":"olive","conc":"1.01","pct":0},{"panel":"P7T","series":"olive","conc":"1.1","pct":0},{"panel":"P7T","series":"olive","conc":"1.2","pct":0},{"panel":"P7T","series":"olive","conc":"1.4","pct":2.5},{"panel":"P7T","series":"olive","conc":"1.6","pct":38.2},{"panel":"P7T","series":"olive","conc":"1.8","pct":38.0},{"panel":"P7T","series":"olive","conc":"2","pct":38.3},{"panel":"P7T","series":"olive","conc":"4","pct":38.3},{"panel":"P7T","series":"olive","conc":"10","pct":42.8},{"panel":"P7T","series":"olive","conc":"20","pct":45.6},{"panel":"P7T","series":"olive","conc":"100","pct":44.8}
]
},
"spacing": 30,
"vconcat": [
{
"data": {"name": "dec"},
"title": {"text": "Decreased miRNA-1 concentration", "anchor": "start", "frame": "bounds", "dx": 15, "offset": -1, "baseline": "alphabetic", "font": "Open Sans", "fontSize": 24, "fontWeight": "normal", "color": "black"},
"facet": {"column": {"field": "panel", "type": "nominal", "sort": ["P3T","P4T","P5T","P7T"], "header": {"labels": false, "title": null}}},
"spacing": {"column": 8},
"spec": {
"width": 262, "height": 304,
"layer": [
{"mark": {"type": "rule", "strokeDash": [9,5], "color": "#333333", "strokeWidth": 1.4},
 "encoding": {"y": {"datum": 10, "type": "quantitative", "scale": {"domain": [-3.4, 88.4], "nice": false, "zero": false}}}},
{"mark": {"type": "line", "strokeWidth": 1.6, "clip": true},
 "encoding": {
  "x": {"field": "conc", "type": "ordinal", "scale": {"type": "point", "padding": 0.4, "domain": ["1.01","1.1","1.2","1.4","1.6","1.8","2","4","10","20","100"]}, "axis": {"title": null, "labelAngle": 270, "labelAlign": "right", "labelBaseline": "middle", "labelOverlap": false}},
  "y": {"field": "pct", "type": "quantitative", "scale": {"domain": [-3.4, 88.4], "nice": false, "zero": false}, "axis": {"title": "Frequency [%]", "values": [0,20,40,60,80], "titlePadding": 17}},
  "color": {"field": "series", "type": "nominal", "scale": {"domain": ["gray","orange","darkred","green","purple","cyan","red","pink","lime","olive","blue","orange2"], "range": ["#BEBEBE","#FF9A1F","#800000","#008000","#9A3A6E","#00FFFF","#FF0000","#FF8080","#00FF00","#636300","#0000FF","#FF8C00"]}, "legend": null},
  "order": {"value": null}
 }},
{"mark": {"type": "point", "shape": "diamond", "filled": true, "size": 100, "opacity": 1, "clip": true},
 "encoding": {
  "x": {"field": "conc", "type": "ordinal", "scale": {"type": "point", "padding": 0.4, "domain": ["1.01","1.1","1.2","1.4","1.6","1.8","2","4","10","20","100"]}},
  "y": {"field": "pct", "type": "quantitative", "scale": {"domain": [-3.4, 88.4], "nice": false, "zero": false}},
  "color": {"field": "series", "type": "nominal", "scale": {"domain": ["gray","orange","darkred","green","purple","cyan","red","pink","lime","olive","blue","orange2"], "range": ["#BEBEBE","#FF9A1F","#800000","#008000","#9A3A6E","#00FFFF","#FF0000","#FF8080","#00FF00","#636300","#0000FF","#FF8C00"]}, "legend": null}
 }},
{"transform": [{"filter": "datum.series == 'olive' && datum.conc == '1.01'"}],
 "mark": {"type": "text", "angle": 270, "align": "right", "baseline": "top", "font": "Liberation Sans", "fontSize": 48, "dy": -9, "color": "black"},
 "encoding": {
  "text": {"field": "panel"},
  "x": {"field": "conc", "type": "ordinal", "scale": {"type": "point", "padding": 0.4, "domain": ["1.01","1.1","1.2","1.4","1.6","1.8","2","4","10","20","100"]}},
  "y": {"datum": 87.7, "type": "quantitative", "scale": {"domain": [-3.4, 88.4], "nice": false, "zero": false}}
 }}
]
}
},
{
"data": {"name": "inc"},
"title": {"text": "Increased miRNA-1 concentration", "anchor": "start", "frame": "bounds", "dx": 15, "offset": 8, "baseline": "alphabetic", "font": "Open Sans", "fontSize": 24, "fontWeight": "normal", "color": "black"},
"facet": {"column": {"field": "panel", "type": "nominal", "sort": ["P3T","P4T","P5T","P7T"], "header": {"labels": false, "title": null}}},
"spacing": {"column": 8},
"spec": {
"width": 262, "height": 304,
"layer": [
{"mark": {"type": "rule", "strokeDash": [9,5], "color": "#333333", "strokeWidth": 1.4},
 "encoding": {"y": {"datum": 10, "type": "quantitative", "scale": {"domain": [-3.4, 88.4], "nice": false, "zero": false}}}},
{"mark": {"type": "line", "strokeWidth": 1.6, "clip": true},
 "encoding": {
  "x": {"field": "conc", "type": "ordinal", "scale": {"type": "point", "padding": 0.4, "domain": ["1.01","1.1","1.2","1.4","1.6","1.8","2","4","10","20","100"]}, "axis": {"title": null, "labelAngle": 270, "labelAlign": "right", "labelBaseline": "middle", "labelOverlap": false}},
  "y": {"field": "pct", "type": "quantitative", "scale": {"domain": [-3.4, 88.4], "nice": false, "zero": false}, "axis": {"title": "Frequency [%]", "values": [0,20,40,60,80], "titlePadding": 17}},
  "color": {"field": "series", "type": "nominal", "scale": {"domain": ["gray","orange","darkred","green","purple","cyan","red","pink","lime","olive","blue","orange2"], "range": ["#BEBEBE","#FF9A1F","#800000","#008000","#9A3A6E","#00FFFF","#FF0000","#FF8080","#00FF00","#636300","#0000FF","#FF8C00"]}, "legend": null},
  "order": {"value": null}
 }},
{"mark": {"type": "point", "shape": "diamond", "filled": true, "size": 100, "opacity": 1, "clip": true},
 "encoding": {
  "x": {"field": "conc", "type": "ordinal", "scale": {"type": "point", "padding": 0.4, "domain": ["1.01","1.1","1.2","1.4","1.6","1.8","2","4","10","20","100"]}},
  "y": {"field": "pct", "type": "quantitative", "scale": {"domain": [-3.4, 88.4], "nice": false, "zero": false}},
  "color": {"field": "series", "type": "nominal", "scale": {"domain": ["gray","orange","darkred","green","purple","cyan","red","pink","lime","olive","blue","orange2"], "range": ["#BEBEBE","#FF9A1F","#800000","#008000","#9A3A6E","#00FFFF","#FF0000","#FF8080","#00FF00","#636300","#0000FF","#FF8C00"]}, "legend": null}
 }},
{"transform": [{"filter": "datum.series == 'olive' && datum.conc == '1.01'"}],
 "mark": {"type": "text", "angle": 270, "align": "right", "baseline": "top", "font": "Liberation Sans", "fontSize": 48, "dy": -9, "color": "black"},
 "encoding": {
  "text": {"field": "panel"},
  "x": {"field": "conc", "type": "ordinal", "scale": {"type": "point", "padding": 0.4, "domain": ["1.01","1.1","1.2","1.4","1.6","1.8","2","4","10","20","100"]}},
  "y": {"datum": 87.7, "type": "quantitative", "scale": {"domain": [-3.4, 88.4], "nice": false, "zero": false}}
 }}
]
}
}
],
"config": {
"view": {"stroke": "#8c8c8c", "strokeWidth": 1.3},
"axis": {"domain": false, "grid": false, "ticks": true, "tickColor": "#8c8c8c", "tickWidth": 1.2, "tickSize": 13, "labelPadding": 14, "labelFont": "Liberation Sans", "labelFontSize": 20, "labelColor": "black", "titleFont": "Liberation Sans", "titleFontSize": 25, "titleFontWeight": "normal", "titleColor": "black"}
}
}
